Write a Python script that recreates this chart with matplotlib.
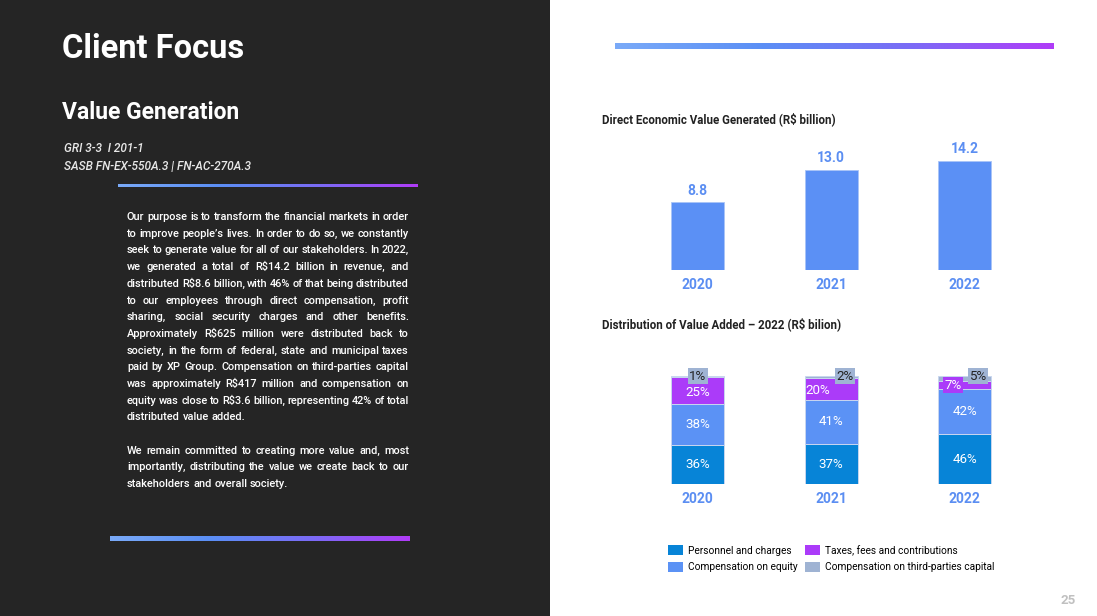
import numpy as np
import matplotlib
matplotlib.use('Agg')
import matplotlib.pyplot as plt
from matplotlib.colors import LinearSegmentedColormap
from matplotlib.patches import Rectangle, Patch

plt.rcParams['font.family'] = ['Roboto', 'DejaVu Sans']

# data
years = ['2020', '2021', '2022']
generated = [8.8, 13.0, 14.2]
series_names = ['Personnel and charges', 'Compensation on equity',
                'Taxes, fees and contributions', 'Compensation on third-parties capital']
personnel = [36, 37, 46]
equity = [38, 41, 42]
taxes = [25, 20, 7]
third_party = [1, 2, 5]

paragraph1 = [
    "Our purpose is to transform the financial markets in order",
    "to improve people’s lives. In order to do so, we constantly",
    "seek to generate value for all of our stakeholders. In 2022,",
    "we generated a total of R$14.2 billion in revenue, and",
    "distributed R$8.6 billion, with 46% of that being distributed",
    "to our employees through direct compensation, profit",
    "sharing, social security charges and other benefits.",
    "Approximately R$625 million were distributed back to",
    "society, in the form of federal, state and municipal taxes",
    "paid by XP Group. Compensation on third-parties capital",
    "was approximately R$417 million and compensation on",
    "equity was close to R$3.6 billion, representing 42% of total",
    "distributed value added.",
]
paragraph2 = [
    "We remain committed to creating more value and, most",
    "importantly, distributing the value we create back to our",
    "stakeholders and overall society.",
]

W, H = 1097, 616
fig = plt.figure(figsize=(W / 100, H / 100), dpi=100)
fig.patch.set_facecolor('white')


def fx(x):
    return x / W


def fy(y):
    return 1 - y / H


# dark left panel
fig.add_artist(Rectangle((0, 0), fx(550), 1, transform=fig.transFigure,
                         facecolor='#252525', edgecolor='none', zorder=0))

grad = LinearSegmentedColormap.from_list('g', ['#7aaaf8', '#5b8ff5', '#7a6cf6', '#b03cf8'])


def gradient_line(x0, x1, y, th):
    a = fig.add_axes([fx(x0), fy(y + th / 2), fx(x1 - x0), th / H])
    a.imshow(np.linspace(0, 1, 256)[None, :], aspect='auto', cmap=grad)
    a.axis('off')


gradient_line(118, 418, 185.5, 4)
gradient_line(110, 410, 538, 5)
gradient_line(615, 1054, 46, 7)

# left texts
fig.text(fx(62), fy(49), 'Client Focus', color='white', fontsize=23.5,
         fontweight='bold', va='center')
fig.text(fx(62), fy(112), 'Value Generation', color='white', fontsize=16.5,
         fontweight='bold', va='center')
fig.text(fx(64), fy(148), 'GRI 3-3  I 201-1', color='#e8e8e8', fontsize=8.6,
         style='italic', fontweight='medium', va='center')
fig.text(fx(64), fy(167), 'SASB FN-EX-550A.3 | FN-AC-270A.3', color='#e8e8e8',
         fontsize=8.6, style='italic', fontweight='medium', va='center')

# justified paragraph
renderer = fig.canvas.get_renderer()
pfs = 7.9


def word_w(w):
    t = fig.text(0, 0, w, fontsize=pfs, fontweight='medium', parse_math=False)
    wd = t.get_window_extent(renderer).width
    t.remove()
    return wd


def draw_par(lines, y0, x0=127, x1=409, pitch=16.7):
    for i, line in enumerate(lines):
        y = y0 + i * pitch
        words = line.split(' ')
        last = i == len(lines) - 1
        widths = [word_w(w) for w in words]
        if last or len(words) == 1:
            gap = word_w('a b') - word_w('ab')
        else:
            gap = (x1 - x0 - sum(widths)) / (len(words) - 1)
        x = x0
        for w, wd in zip(words, widths):
            fig.text(fx(x), fy(y), w, color='white', fontsize=pfs,
                     fontweight='medium', va='baseline', parse_math=False)
            x += wd + gap


draw_par(paragraph1, 220)
draw_par(paragraph2, 453.5)

# right side titles
fig.text(fx(602), fy(119), 'Direct Economic Value Generated (R$ billion)',
         fontsize=8.3, fontweight='bold', color='#222222', va='center', parse_math=False)
fig.text(fx(602), fy(324), 'Distribution of Value Added – 2022 (R$ bilion)',
         fontsize=8.3, fontweight='bold', color='#222222', va='center', parse_math=False)

blue = '#5b90f5'
label_blue = '#5b8ef2'
x = np.arange(len(years))

# top chart
ax1 = fig.add_axes([fx(631), fy(270), fx(400.5), (270 - 147) / H])
ax1.bar(x, generated, width=0.4, color=blue, edgecolor='#a9c4f7', linewidth=0.6)
for xi, v in zip(x, generated):
    ax1.text(xi, v + 0.6, f'{v:.1f}', ha='center', va='bottom', fontsize=10,
             fontweight='bold', color=label_blue)
ax1.set_xlim(-0.5, 2.5)
ax1.set_ylim(0, 16)
ax1.set_xticks(x, years)
ax1.tick_params(axis='x', length=0, pad=6, labelsize=10, labelcolor=label_blue)
for t in ax1.get_xticklabels():
    t.set_fontweight('bold')
ax1.set_yticks([])
for s in ax1.spines.values():
    s.set_visible(False)
ax1.patch.set_alpha(0)

# stacked chart
colors = ['#0784d7', '#5b92f5', '#ab3bf9', '#9fb3d3']
ax2 = fig.add_axes([fx(631), fy(484), fx(400.5), 108 / H])
stack = [personnel, equity, taxes, third_party]
bottom = np.zeros(3)
for vals, c, name in zip(stack, colors, series_names):
    ax2.bar(x, vals, width=0.4, bottom=bottom, color=c, edgecolor='#c8d6ef',
            linewidth=0.7, label=name)
    bottom += np.array(vals)
ax2.set_xlim(-0.5, 2.5)
ax2.set_ylim(0, 100)

lfs = 9.6
# labels inside segments
for i in range(3):
    b = 0
    for k, vals in enumerate(stack):
        v = vals[i]
        cy = b + v / 2
        b += v
        txt = f'{v}%'
        if k < 2:
            ax2.text(i, cy, txt, ha='center', va='center', color='white', fontsize=lfs)
        elif k == 2:
            if v >= 20 and i == 0:
                ax2.text(i, cy - 1.5, txt, ha='center', va='center', color='white', fontsize=lfs)
            elif v >= 20:
                ax2.text(i - 0.1, cy - 1, txt, ha='center', va='center', color='white', fontsize=lfs)
            else:
                ax2.text(i - 0.09, cy, txt, ha='center', va='center', color='white', fontsize=lfs,
                         bbox=dict(boxstyle='square,pad=0.1', fc=colors[2], ec='none'))
        else:
            dx = 0 if i == 0 else 0.1
            ax2.text(i + dx, 100, txt, ha='center', va='center', color='#222222', fontsize=lfs,
                     bbox=dict(boxstyle='square,pad=0.1', fc=colors[3], ec='none'))

ax2.set_xticks(x, years)
ax2.tick_params(axis='x', length=0, pad=6, labelsize=10, labelcolor=label_blue)
for t in ax2.get_xticklabels():
    t.set_fontweight('bold')
ax2.set_yticks([])
for s in ax2.spines.values():
    s.set_visible(False)
ax2.patch.set_alpha(0)

handles = [Patch(facecolor=c, edgecolor='none') for c in colors]
fig.legend(handles, series_names, loc='upper left', bbox_to_anchor=(fx(668), fy(545)),
           ncol=2, frameon=False, fontsize=7.3, handlelength=1.45, handleheight=1.15,
           handletextpad=0.5, columnspacing=0.75, labelspacing=0.62, borderpad=0,
           borderaxespad=0)

fig.text(fx(1068), fy(600), '25', color='#c0c0c0', fontsize=9.5, fontweight='bold',
         ha='center', va='center')

fig.savefig('out.png', dpi=100)
